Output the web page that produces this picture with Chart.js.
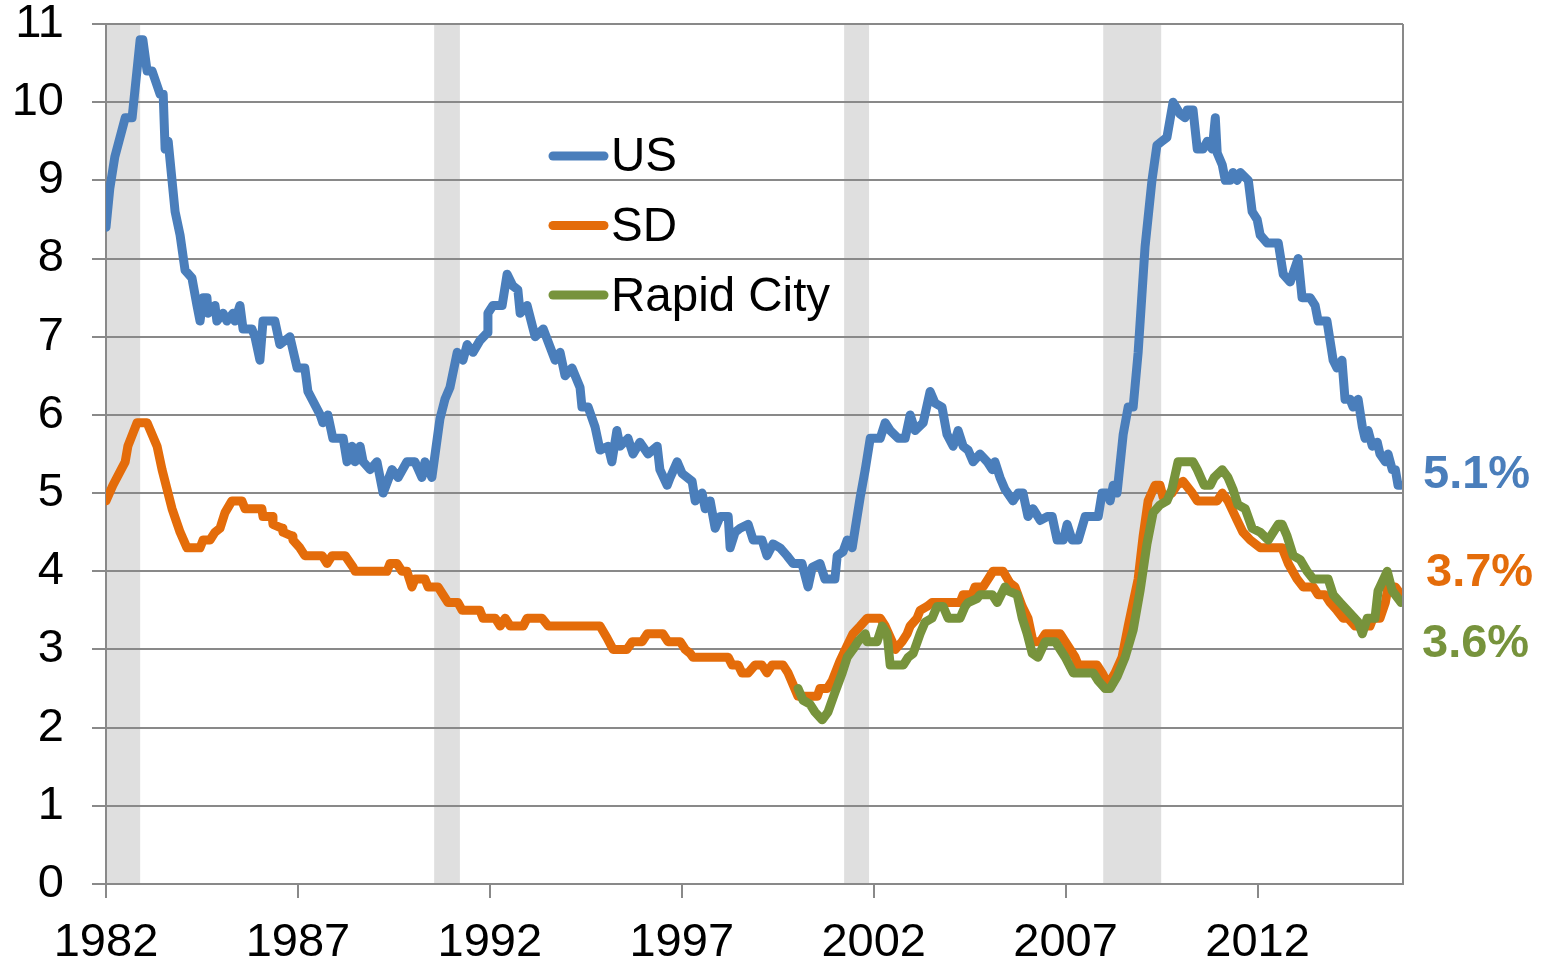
<!DOCTYPE html>
<html>
<head>
<meta charset="utf-8">
<title>Unemployment rate: US, SD, Rapid City</title>
<script src="https://cdn.jsdelivr.net/npm/chart.js"></script>
<style>
  html, body { margin: 0; padding: 0; background: #fff; }
  canvas { display: block; }
</style>
</head>
<body>
<canvas id="chart" width="1546" height="965"></canvas>
<script>
// values (decimal year, percent)
const usYears = [1982.00, 1982.10, 1982.23, 1982.50, 1982.68, 1982.89, 1982.96, 1983.07, 1983.20, 1983.41,
  1983.49, 1983.54, 1983.62, 1983.80, 1983.93, 1984.06, 1984.24, 1984.37, 1984.45, 1984.53,
  1984.63, 1984.66, 1984.84, 1984.89, 1985.05, 1985.15, 1985.31, 1985.36, 1985.49, 1985.57,
  1985.80, 1985.88, 1986.01, 1986.09, 1986.40, 1986.53, 1986.79, 1986.98, 1987.18, 1987.26,
  1987.58, 1987.65, 1987.78, 1987.91, 1988.18, 1988.28, 1988.41, 1988.49, 1988.62, 1988.70,
  1988.88, 1989.06, 1989.22, 1989.45, 1989.61, 1989.84, 1990.05, 1990.23, 1990.31, 1990.49,
  1990.70, 1990.83, 1990.96, 1991.15, 1991.30, 1991.41, 1991.56, 1991.74, 1991.93, 1991.95,
  1992.08, 1992.32, 1992.45, 1992.60, 1992.73, 1992.79, 1992.97, 1993.18, 1993.39, 1993.70,
  1993.83, 1993.96, 1994.14, 1994.35, 1994.40, 1994.56, 1994.74, 1994.87, 1995.08, 1995.18,
  1995.31, 1995.39, 1995.60, 1995.73, 1995.91, 1996.12, 1996.36, 1996.43, 1996.62, 1996.70,
  1996.88, 1997.01, 1997.27, 1997.35, 1997.53, 1997.61, 1997.74, 1997.87, 1998.00, 1998.21,
  1998.26, 1998.39, 1998.52, 1998.73, 1998.86, 1999.09, 1999.22, 1999.38, 1999.56, 1999.74,
  1999.90, 2000.13, 2000.29, 2000.40, 2000.60, 2000.73, 2000.99, 2001.05, 2001.20, 2001.31,
  2001.44, 2001.52, 2001.65, 2001.78, 2001.91, 2002.17, 2002.30, 2002.43, 2002.64, 2002.82,
  2002.95, 2003.08, 2003.29, 2003.47, 2003.60, 2003.78, 2003.91, 2004.07, 2004.20, 2004.33,
  2004.46, 2004.59, 2004.77, 2004.96, 2005.09, 2005.16, 2005.29, 2005.42, 2005.63, 2005.76,
  2005.89, 2006.02, 2006.15, 2006.34, 2006.52, 2006.65, 2006.78, 2006.94, 2007.04, 2007.17,
  2007.33, 2007.51, 2007.85, 2007.95, 2008.08, 2008.16, 2008.24, 2008.34, 2008.50, 2008.63,
  2008.76, 2008.89, 2009.07, 2009.25, 2009.38, 2009.51, 2009.64, 2009.80, 2009.98, 2010.11,
  2010.17, 2010.32, 2010.43, 2010.58, 2010.69, 2010.82, 2010.90, 2010.95, 2011.08, 2011.16,
  2011.29, 2011.36, 2011.47, 2011.55, 2011.76, 2011.86, 2011.99, 2012.07, 2012.25, 2012.54,
  2012.67, 2012.85, 2013.06, 2013.16, 2013.37, 2013.50, 2013.58, 2013.81, 2013.97, 2014.07,
  2014.20, 2014.28, 2014.41, 2014.49, 2014.62, 2014.73, 2014.80, 2014.88, 2014.99, 2015.12,
  2015.19, 2015.33, 2015.40, 2015.51, 2015.59, 2015.66, 2015.74];
const usRates = [8.4, 8.9, 9.3, 9.8, 9.8, 10.8, 10.8, 10.4, 10.4, 10.1,
  10.1, 9.4, 9.5, 8.6, 8.3, 7.85, 7.75, 7.4, 7.2, 7.5,
  7.5, 7.3, 7.4, 7.2, 7.3, 7.2, 7.3, 7.2, 7.4, 7.1,
  7.1, 7.0, 6.7, 7.2, 7.2, 6.9, 7.0, 6.6, 6.6, 6.3,
  6.0, 5.9, 6.0, 5.7, 5.7, 5.4, 5.6, 5.4, 5.6, 5.4,
  5.3, 5.4, 5.0, 5.3, 5.2, 5.4, 5.4, 5.2, 5.4, 5.2,
  5.95, 6.2, 6.35, 6.8, 6.7, 6.9, 6.8, 6.95, 7.05, 7.3,
  7.4, 7.4, 7.8, 7.65, 7.6, 7.3, 7.4, 7.0, 7.1, 6.7,
  6.8, 6.5, 6.6, 6.35, 6.1, 6.1, 5.85, 5.55, 5.6, 5.4,
  5.8, 5.6, 5.7, 5.5, 5.65, 5.5, 5.6, 5.3, 5.1, 5.2,
  5.4, 5.25, 5.15, 4.9, 5.0, 4.8, 4.9, 4.55, 4.7, 4.7,
  4.3, 4.5, 4.55, 4.6, 4.4, 4.4, 4.2, 4.35, 4.3, 4.2,
  4.1, 4.1, 3.8, 4.05, 4.1, 3.9, 3.9, 4.2, 4.25, 4.4,
  4.3, 4.55, 4.95, 5.3, 5.7, 5.7, 5.9, 5.8, 5.7, 5.7,
  6.0, 5.8, 5.9, 6.3, 6.15, 6.1, 5.75, 5.6, 5.8, 5.6,
  5.55, 5.4, 5.5, 5.4, 5.3, 5.4, 5.2, 5.05, 4.9, 5.0,
  5.0, 4.7, 4.8, 4.65, 4.7, 4.7, 4.4, 4.4, 4.6, 4.4,
  4.4, 4.7, 4.7, 5.0, 5.0, 4.9, 5.1, 5.0, 5.75, 6.1,
  6.1, 6.8, 8.15, 9.0, 9.45, 9.5, 9.55, 10.0, 9.85, 9.8,
  9.9, 9.9, 9.4, 9.4, 9.5, 9.4, 9.8, 9.35, 9.2, 9.0,
  9.0, 9.1, 9.0, 9.1, 9.0, 8.6, 8.5, 8.3, 8.2, 8.2,
  7.8, 7.7, 8.0, 7.5, 7.5, 7.4, 7.2, 7.2, 6.7, 6.6,
  6.7, 6.2, 6.2, 6.1, 6.2, 5.85, 5.7, 5.8, 5.6, 5.65,
  5.5, 5.4, 5.5, 5.3, 5.3, 5.1, 5.1];

const sdYears = [1982.00, 1982.18, 1982.50, 1982.57, 1982.81, 1983.07, 1983.33, 1983.46, 1983.59, 1983.72,
  1983.93, 1984.11, 1984.45, 1984.53, 1984.71, 1984.84, 1984.97, 1985.10, 1985.28, 1985.54,
  1985.62, 1986.06, 1986.09, 1986.33, 1986.35, 1986.59, 1986.61, 1986.85, 1986.87, 1987.05,
  1987.18, 1987.63, 1987.76, 1987.89, 1988.23, 1988.44, 1988.49, 1989.32, 1989.40, 1989.58,
  1989.71, 1989.84, 1989.97, 1990.05, 1990.31, 1990.39, 1990.65, 1990.78, 1990.91, 1991.17,
  1991.28, 1991.74, 1991.82, 1992.14, 1992.27, 1992.40, 1992.53, 1992.87, 1992.97, 1993.36,
  1993.52, 1994.87, 1995.05, 1995.21, 1995.57, 1995.71, 1995.97, 1996.10, 1996.51, 1996.64,
  1996.96, 1997.09, 1997.22, 1997.29, 1998.21, 1998.31, 1998.47, 1998.57, 1998.73, 1998.91,
  1999.09, 1999.22, 1999.35, 1999.64, 1999.77, 1999.90, 2000.03, 2000.53, 2000.60, 2000.79,
  2000.92, 2001.12, 2001.31, 2001.46, 2001.65, 2001.83, 2002.17, 2002.30, 2002.48, 2002.56,
  2002.74, 2002.87, 2002.95, 2003.13, 2003.21, 2003.39, 2003.52, 2004.25, 2004.33, 2004.56,
  2004.64, 2004.85, 2004.98, 2005.11, 2005.37, 2005.55, 2005.68, 2005.87, 2006.02, 2006.15,
  2006.34, 2006.47, 2006.86, 2006.99, 2007.12, 2007.25, 2007.33, 2007.82, 2007.95, 2008.11,
  2008.29, 2008.47, 2008.63, 2008.76, 2008.89, 2009.02, 2009.15, 2009.33, 2009.46, 2009.54,
  2009.77, 2009.90, 2010.06, 2010.30, 2010.43, 2010.95, 2011.08, 2011.23, 2011.47, 2011.62,
  2011.81, 2012.07, 2012.64, 2012.80, 2013.03, 2013.19, 2013.45, 2013.58, 2013.76, 2013.89,
  2014.07, 2014.23, 2014.36, 2014.54, 2014.93, 2015.01, 2015.19, 2015.33, 2015.40, 2015.59,
  2015.74];
const sdRates = [4.9, 5.1, 5.4, 5.6, 5.9, 5.9, 5.6, 5.3, 5.05, 4.8,
  4.5, 4.3, 4.3, 4.4, 4.4, 4.5, 4.55, 4.75, 4.9, 4.9,
  4.8, 4.8, 4.7, 4.7, 4.6, 4.55, 4.5, 4.45, 4.4, 4.3,
  4.2, 4.2, 4.1, 4.2, 4.2, 4.05, 4.0, 4.0, 4.1, 4.1,
  4.0, 4.0, 3.8, 3.9, 3.9, 3.8, 3.8, 3.7, 3.6, 3.6,
  3.5, 3.5, 3.4, 3.4, 3.3, 3.4, 3.3, 3.3, 3.4, 3.4,
  3.3, 3.3, 3.15, 3.0, 3.0, 3.1, 3.1, 3.2, 3.2, 3.1,
  3.1, 3.0, 2.95, 2.9, 2.9, 2.8, 2.8, 2.7, 2.7, 2.8,
  2.8, 2.7, 2.8, 2.8, 2.7, 2.55, 2.4, 2.4, 2.5, 2.5,
  2.6, 2.85, 3.05, 3.2, 3.3, 3.4, 3.4, 3.3, 3.1, 3.0,
  3.1, 3.2, 3.3, 3.4, 3.5, 3.55, 3.6, 3.6, 3.7, 3.7,
  3.8, 3.8, 3.9, 4.0, 4.0, 3.85, 3.8, 3.55, 3.4, 3.1,
  3.1, 3.2, 3.2, 3.1, 3.0, 2.9, 2.8, 2.8, 2.7, 2.55,
  2.7, 2.9, 3.3, 3.6, 3.9, 4.45, 4.9, 5.1, 5.1, 4.95,
  5.0, 5.1, 5.15, 5.0, 4.9, 4.9, 5.0, 4.9, 4.65, 4.5,
  4.4, 4.3, 4.3, 4.1, 3.9, 3.8, 3.8, 3.7, 3.7, 3.6,
  3.5, 3.4, 3.4, 3.3, 3.3, 3.4, 3.4, 3.6, 3.8, 3.8,
  3.7];

const rcYears = [2000.03, 2000.16, 2000.34, 2000.47, 2000.66, 2000.81, 2000.99, 2001.18, 2001.31, 2001.46,
  2001.59, 2001.78, 2001.83, 2002.09, 2002.22, 2002.35, 2002.43, 2002.77, 2002.90, 2003.03,
  2003.21, 2003.34, 2003.52, 2003.65, 2003.81, 2003.94, 2004.25, 2004.38, 2004.46, 2004.69,
  2004.77, 2005.09, 2005.22, 2005.42, 2005.50, 2005.74, 2005.87, 2006.00, 2006.13, 2006.28,
  2006.47, 2006.73, 2006.86, 2006.99, 2007.20, 2007.72, 2007.85, 2008.03, 2008.16, 2008.34,
  2008.55, 2008.76, 2008.94, 2009.12, 2009.28, 2009.46, 2009.64, 2009.77, 2009.93, 2010.32,
  2010.43, 2010.61, 2010.77, 2010.87, 2011.08, 2011.23, 2011.36, 2011.49, 2011.68, 2011.86,
  2012.07, 2012.28, 2012.54, 2012.64, 2012.77, 2012.93, 2013.11, 2013.29, 2013.45, 2013.84,
  2013.97, 2014.15, 2014.34, 2014.62, 2014.73, 2014.86, 2015.06, 2015.14, 2015.38, 2015.51,
  2015.74];
const rcRates = [2.5, 2.35, 2.3, 2.2, 2.1, 2.2, 2.45, 2.7, 2.9, 3.0,
  3.1, 3.2, 3.1, 3.1, 3.3, 3.2, 2.8, 2.8, 2.9, 2.95,
  3.2, 3.35, 3.4, 3.55, 3.55, 3.4, 3.4, 3.55, 3.6, 3.65,
  3.7, 3.7, 3.6, 3.8, 3.75, 3.7, 3.4, 3.2, 2.95, 2.9,
  3.1, 3.1, 3.0, 2.9, 2.7, 2.7, 2.6, 2.5, 2.5, 2.65,
  2.9, 3.25, 3.75, 4.35, 4.75, 4.85, 4.9, 5.05, 5.4, 5.4,
  5.3, 5.1, 5.1, 5.2, 5.3, 5.2, 5.05, 4.85, 4.8, 4.55,
  4.5, 4.4, 4.6, 4.6, 4.45, 4.2, 4.15, 4.0, 3.9, 3.9,
  3.7, 3.6, 3.5, 3.35, 3.2, 3.4, 3.4, 3.75, 4.0, 3.75,
  3.6];

const seriesNames = ['US', 'SD', 'Rapid City'];
const seriesColors = ['#4a7ebb', '#e46c0a', '#77933c'];
const endLabels = ['5.1%', '3.7%', '3.6%'];

// shaded recessions
const recessionStart = [1982.00, 1990.55, 2001.23, 2007.98];
const recessionEnd = [1982.89, 1991.22, 2001.88, 2009.49];

const yearTicks = [1982, 1987, 1992, 1997, 2002, 2007, 2012];
const rateTicks = [0, 1, 2, 3, 4, 5, 6, 7, 8, 9, 10, 11];

const FONT = '"Liberation Sans", Arial, sans-serif';
const GRID = '#898989';

const toPoints = (xs, ys) => xs.map((x, i) => ({ x: x, y: ys[i] }));

const extras = {
  id: 'extras',
  beforeDraw(chart) {
    const { ctx, chartArea: a, scales: { x } } = chart;
    ctx.save();
    ctx.fillStyle = '#ffffff';
    ctx.fillRect(0, 0, chart.width, chart.height);
    ctx.fillStyle = '#dfdfdf';
    recessionStart.forEach((s, i) => {
      const x0 = x.getPixelForValue(s);
      const x1 = x.getPixelForValue(recessionEnd[i]);
      ctx.fillRect(x0, a.top, x1 - x0, a.bottom - a.top);
    });
    ctx.restore();
  },
  afterDraw(chart) {
    const { ctx, chartArea: a } = chart;
    ctx.save();
    // right border of the plot
    ctx.strokeStyle = GRID;
    ctx.lineWidth = 2;
    ctx.beginPath();
    ctx.moveTo(a.right, a.top);
    ctx.lineTo(a.right, a.bottom + 1);
    ctx.stroke();

    // legend inside the plot
    ctx.font = '47.5px ' + FONT;
    ctx.textBaseline = 'alphabetic';
    ctx.textAlign = 'left';
    seriesNames.forEach((name, i) => {
      const lineY = 156 + i * 69.5;
      ctx.strokeStyle = seriesColors[i];
      ctx.lineWidth = 9;
      ctx.lineCap = 'round';
      ctx.beginPath();
      ctx.moveTo(553, lineY);
      ctx.lineTo(604, lineY);
      ctx.stroke();
      ctx.fillStyle = '#000';
      ctx.fillText(name, 611, 171 + i * 70);
    });

    // end-of-series labels
    ctx.font = 'bold 47px ' + FONT;
    const labelX = [1423, 1426, 1422];
    const labelY = [488, 586, 657];
    endLabels.forEach((t, i) => {
      ctx.fillStyle = seriesColors[i];
      ctx.fillText(t, labelX[i], labelY[i]);
    });
    ctx.restore();
  }
};

const lineStyle = color => ({
  borderColor: color,
  backgroundColor: color,
  borderWidth: 9,
  pointRadius: 0,
  tension: 0,
  borderJoinStyle: 'round',
  borderCapStyle: 'round',
  fill: false
});

new Chart(document.getElementById('chart'), {
  type: 'line',
  data: {
    datasets: [
      { label: seriesNames[0], data: toPoints(usYears, usRates), order: 3, ...lineStyle(seriesColors[0]) },
      { label: seriesNames[1], data: toPoints(sdYears, sdRates), order: 2, ...lineStyle(seriesColors[1]) },
      { label: seriesNames[2], data: toPoints(rcYears, rcRates), order: 1, ...lineStyle(seriesColors[2]) }
    ]
  },
  options: {
    responsive: false,
    animation: false,
    layout: { padding: { top: 24, right: 143, left: 0, bottom: 0 } },
    plugins: { legend: { display: false }, tooltip: { enabled: false } },
    scales: {
      x: {
        type: 'linear',
        min: 1982,
        max: 2015.79,
        afterBuildTicks: s => { s.ticks = yearTicks.map(v => ({ value: v })); },
        afterFit: s => { s.height = 81; s.paddingLeft = 0; s.paddingRight = 0; },
        ticks: {
          autoSkip: false,
          maxRotation: 0,
          padding: 17,
          color: '#000',
          font: { family: FONT, size: 47 },
          callback: v => String(v)
        },
        grid: { drawOnChartArea: false, drawTicks: true, tickLength: 14, color: GRID, lineWidth: 2 },
        border: { color: GRID, width: 2 }
      },
      y: {
        min: 0,
        max: 11,
        afterBuildTicks: s => { s.ticks = rateTicks.map(v => ({ value: v })); },
        afterFit: s => { s.width = 106; s.paddingTop = 0; s.paddingBottom = 0; },
        ticks: {
          padding: 28,
          color: '#000',
          font: { family: FONT, size: 47, lineHeight: 1 },
          callback: v => String(v)
        },
        grid: { color: GRID, lineWidth: 2, tickLength: 14 },
        border: { color: GRID, width: 2 }
      }
    }
  },
  plugins: [extras]
});
</script>
</body>
</html>
